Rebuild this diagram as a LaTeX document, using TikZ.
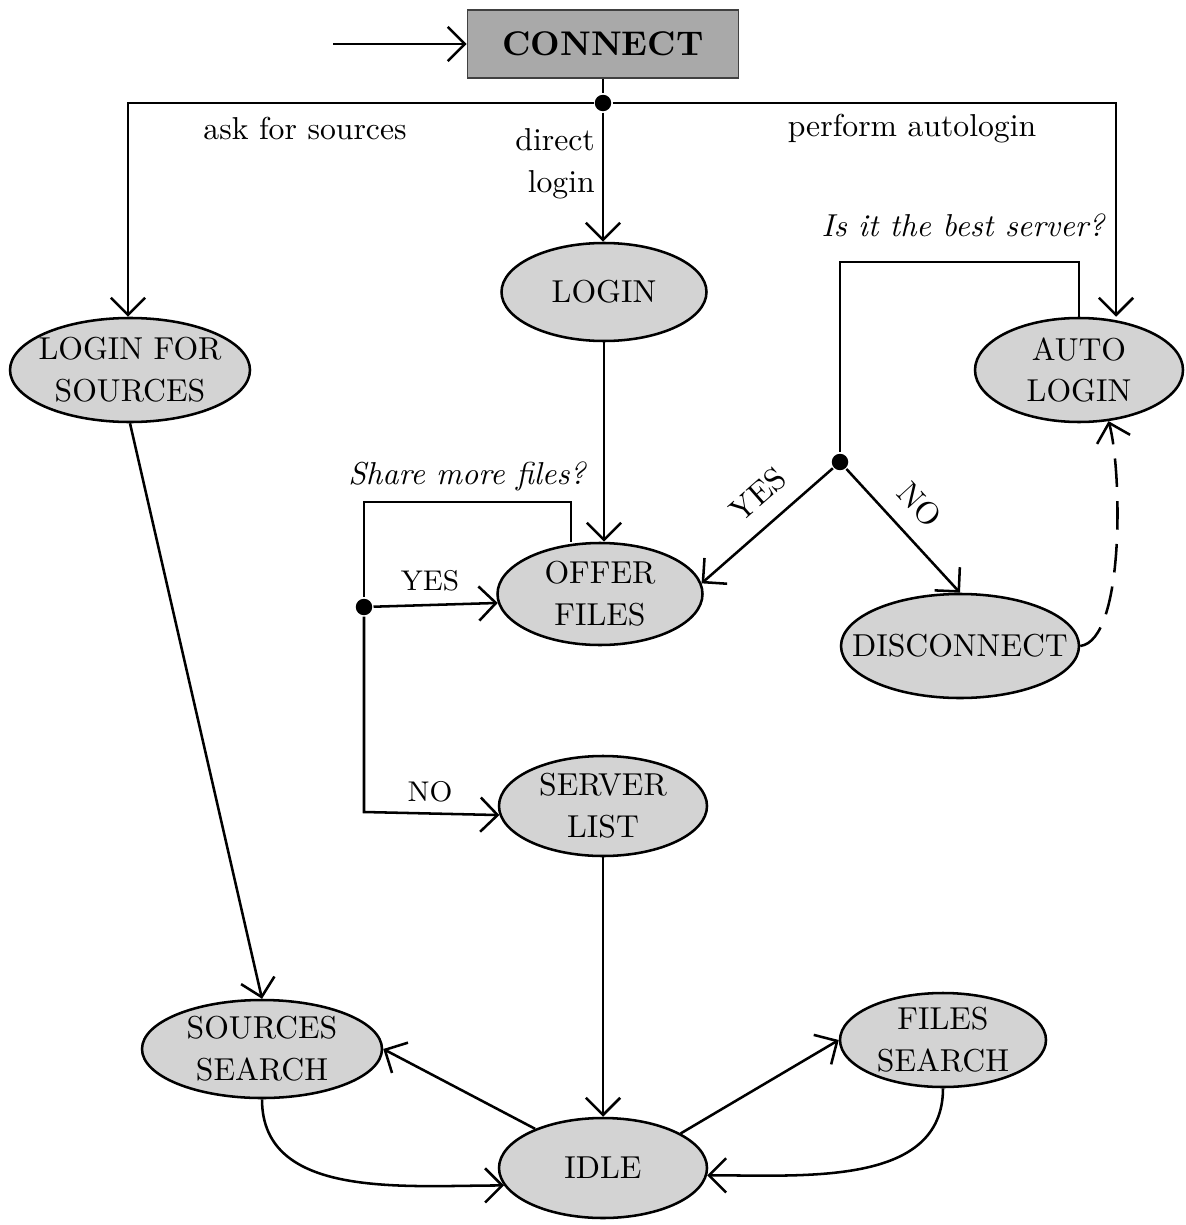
\documentclass[tikz,border=0pt]{standalone}
\usetikzlibrary{arrows.meta,shapes.geometric}
\definecolor{boxgray}{RGB}{169,169,169}
\definecolor{stategray}{RGB}{211,211,211}
\newcommand{\statefont}{\fontsize{10}{13.2}\selectfont}
\tikzset{
  sz/.style 2 args={minimum width=#1*0.3155pt, minimum height=#2*0.3155pt},
  state/.style={ellipse, draw, fill=stategray, inner sep=0pt},
  stext/.style={label={[font=\statefont, align=center]center:{#1}}},
  conn/.style={rectangle, draw=black!75, line width=0.5pt, fill=boxgray,
    minimum width=271*0.3155pt, minimum height=68*0.3155pt,
    font=\fontsize{10.8}{13}\selectfont\bfseries},
  lbl/.style={font=\statefont, inner sep=0pt},
  question/.style={font=\statefont\itshape, inner sep=0pt},
  choice/.style={font=\small},
  slopedchoice/.style={font=\statefont, sloped, above=2pt},
  dotnode/.style={circle, fill=black, inner sep=0pt, minimum size=5.2pt},
  retry/.style={dash pattern=on 9pt off 4.5pt}
}
\begin{document}
\begin{tikzpicture}[x=0.3155pt, y=-0.3155pt,
  line width=0.8pt,
  >={Straight Barb[length=5.4pt, width=10.8pt]}]
\useasboundingbox (0,0) rectangle (1185,1225);

% start box
\node[conn] (connect) at (603,44) {CONNECT};
\coordinate (start) at (333,44);
\draw[->] (start) -- (connect.west);

% states
\node[state, sz={240}{104}, stext={LOGIN FOR\\SOURCES}] (lfs) at (130,370) {};
\node[state, sz={205}{98}, stext={LOGIN}] (login) at (604,292) {};
\node[state, sz={208}{104}, stext={AUTO\\LOGIN}] (auto) at (1079,370) {};
\node[state, sz={205}{102}, stext={OFFER\\FILES}] (offer) at (600,594) {};
\node[state, sz={238}{104}, stext={DISCONNECT}] (disc) at (960,646) {};
\node[state, sz={208}{100}, stext={SERVER\\LIST}] (server) at (603,806) {};
\node[state, sz={240}{98}, stext={SOURCES\\SEARCH}] (ssearch) at (262,1049) {};
\node[state, sz={206}{94}, stext={FILES\\SEARCH}] (fsearch) at (943,1040) {};
\node[state, sz={208}{100}, stext={IDLE}] (idle) at (603,1168) {};

% branching below CONNECT
\node[dotnode] (jt) at (603,103) {};
\coordinate (cl) at (128,103);
\coordinate (cr) at (1116,103);
\draw (connect.south) -- (jt);
\draw[->] (jt) -- (cl) -- (cl |- lfs.north);
\draw[->] (jt) -- (cr) -- (cr |- auto.north);
\draw[->] (jt) -- (jt |- login.north);
\node[lbl] (askl) at (305,129) {ask for sources};
\node[lbl, align=right, anchor=east] (directl) at (596,164) {direct\\login};
\node[lbl] (autol) at (912,129) {perform autologin};

\draw[->] (login.south) -- (login.south |- offer.north);

% share more files loop
\coordinate (sa) at (571,502);
\coordinate (sb) at (364,502);
\node[dotnode] (jl) at (364,607) {};
\coordinate (nc) at (364,812);
\draw (sa |- offer.north) -- (sa) -- (sb) -- (jl);
\draw[->] (jl) -- (offer.185);
\draw[->] (jl) -- (nc) -- (server.185);
\node[question] (shareq) at (467,476) {Share more files?};
\node[choice] (yesl) at (430,581) {YES};
\node[choice] (nol) at (430,792) {NO};

% best server loop
\coordinate (ba) at (1079,262);
\coordinate (bb) at (840,262);
\node[dotnode] (jr) at (840,462) {};
\draw (auto.north) -- (ba) -- (bb) -- (jr);
\draw[->] (jr) -- (offer.6) node[slopedchoice, pos=0.42] {YES};
\draw[->] (jr) -- (disc.north) node[slopedchoice, pos=0.45] {NO};
\node[question] (bestq) at (963,225) {Is it the best server?};
\draw[->, retry] (disc.east) .. controls (1125,640) and (1122,470) .. (auto.-60);

% search and idle
\draw[->] (lfs.south) -- (ssearch.north);
\draw[->] (server.south) -- (idle.north);
\draw[->] (idle.150) -- (ssearch.east);
\draw[->] (ssearch.south) to[out=-90, in=180] (idle.190);
\draw[->] (idle.24) -- (fsearch.west);
\draw[->] (fsearch.south) to[out=-90, in=0] (idle.-4);
\end{tikzpicture}
\end{document}
